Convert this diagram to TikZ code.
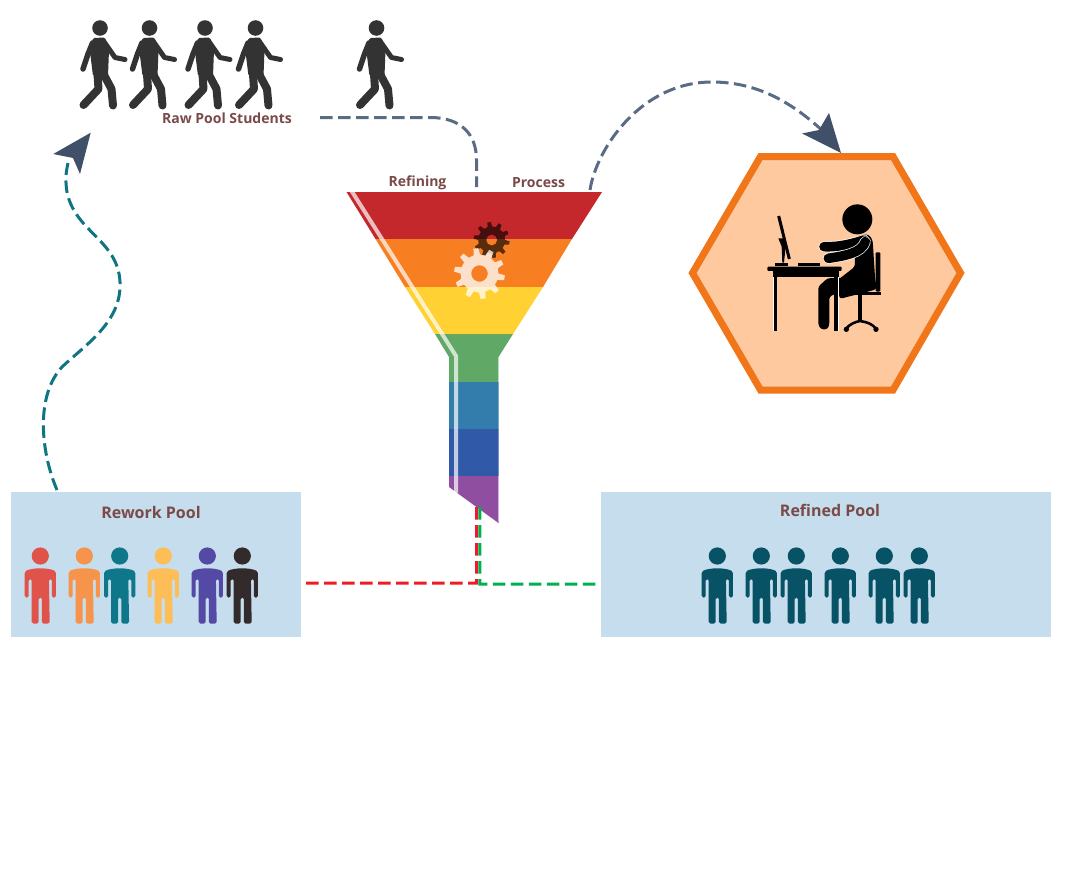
\documentclass[tikz,border=0pt]{standalone}
\usepackage{fontspec}
\setmainfont{Open Sans}
\usetikzlibrary{calc}
\definecolor{lbl}{HTML}{7A4A48}
\definecolor{slate}{HTML}{5A6B85}
\definecolor{slated}{HTML}{3F5068}
\definecolor{teal1}{HTML}{0F7582}
\definecolor{panel}{HTML}{C5DDEC}
\definecolor{walkc}{HTML}{333333}
\definecolor{hexf}{HTML}{FFC99F}
\definecolor{hexs}{HTML}{F1761A}
\definecolor{redc}{HTML}{ED1C24}
\definecolor{greenc}{HTML}{00B050}
\tikzset{
 lab/.style={font=\bfseries\fontsize{14}{16}\selectfont,text=lbl,inner sep=0pt},
 panellab/.style={lab,font=\bfseries\fontsize{16}{18}\selectfont},
 panelbox/.style={fill=panel,draw=none,inner sep=0pt,anchor=north west},
 conn/.style={line width=3pt,dash pattern=on 12.5pt off 5.5pt},
 person/.pic={
   \fill[pic actions] (0,0) circle (8.6);
   \fill[pic actions,rounded corners=1.6pt] (-15.6,15.5) .. controls (-8,11.5) and (8,11.5) .. (15.6,15.5) -- (15.6,41.5) -- (11.6,41.5) -- (11.6,23) -- (8.6,23) -- (9.4,67.5) -- (1.6,67.5) -- (1.6,41.5) -- (-1.6,41.5) -- (-1.6,67.5) -- (-8.6,67.5) -- (-8.6,23) -- (-11.6,23) -- (-11.6,41.5) -- (-15.6,41.5) -- cycle;
 },
 walker/.pic={
   \fill[walkc] (0,0) circle (7.8);
   \fill[walkc,rounded corners=1.5pt] (-7,10) -- (5,9.5) -- (9,22) -- (8,48) -- (-7,48) -- (-10,24) -- cycle;
   \draw[walkc,line width=5.5pt,line cap=round,line join=round] (-7.5,15) -- (-12,26) -- (-17,41);
   \draw[walkc,line width=5pt,line cap=round,line join=round] (3.5,13) -- (15,29.5) -- (25,31.5);
   \draw[walkc,line width=8pt,line cap=round,line join=round] (-2.5,46) -- (-1.5,61) -- (-16.5,77);
   \draw[walkc,line width=8pt,line cap=round,line join=round] (3.5,46) -- (11.5,61) -- (13,77.5);
 },
}
\newcommand{\gearshape}[7]{% x y outer root hole teeth fillopts
 \fill[#7,even odd rule,shift={(#1,#2)}]
   (0:#4) foreach \t in {1,...,#6}{
     -- ({(\t-1+.12)*360/#6}:#3) -- ({(\t-1+.42)*360/#6}:#3) -- ({(\t-1+.55)*360/#6}:#4) -- ({\t*360/#6}:#4)
   } -- cycle (0,0) circle (#5);
}
\begin{document}
\begin{tikzpicture}[x=1pt,y=-1pt]
\useasboundingbox (0,0) rectangle (1065,878);
\fill[white] (0,0) rectangle (1065,878);

% panels
\node[panelbox,minimum width=290pt,minimum height=145pt] (rework) at (11,492) {};
\node[panelbox,minimum width=450pt,minimum height=145pt] (refined) at (601,492) {};
\node[panellab] (reworklab) at (151,512.5) {Rework Pool};
\node[panellab] (refinedlab) at (830,510.5) {Refined Pool};

% labels
\node[lab] (rawlab) at (227,118.5) {Raw Pool Students};
\node[lab] (refininglab) at (417.5,182.5) {Refining};
\node[lab] (processlab) at (538.5,182.5) {Process};

% funnel
\fill[fill={rgb,255:red,196;green,40;blue,44}] (346.5,192) -- (602,192) -- (572,239) -- (375.5,239) -- cycle;
\fill[fill={rgb,255:red,247;green,127;blue,34}] (375.5,239) -- (572,239) -- (543,287) -- (405,287) -- cycle;
\fill[fill={rgb,255:red,255;green,209;blue,51}] (405,287) -- (543,287) -- (513,334) -- (435,334) -- cycle;
\fill[fill={rgb,255:red,95;green,168;blue,102}] (435,334) -- (513,334) -- (498.5,357) -- (498.5,382) -- (449,382) -- (449,357) -- cycle;
\fill[fill={rgb,255:red,51;green,125;blue,173}] (449,382) rectangle (498.5,429);
\fill[fill={rgb,255:red,48;green,89;blue,167}] (449,429) rectangle (498.5,476);
\fill[fill={rgb,255:red,143;green,78;blue,160}] (449,476) -- (498.5,476) -- (498.5,523) -- (449,487) -- cycle;
\draw[white,opacity=.7,line width=4pt] (351,190) -- (456,356) -- (456,493);
\draw[white,opacity=.35,line width=1pt] (498.5,357) -- (498.5,521);
\coordinate (funnelin) at (476.5,187);
\coordinate (funnelout) at (590,190);
\coordinate (redtop) at (476.5,507);
\coordinate (greentop) at (479.8,507);
\coordinate (redrow) at (0,583);
\coordinate (greenrow) at (0,584);

% gears
\gearshape{491.7}{240}{18}{13.5}{5.5}{10}{black,opacity=.64}
\gearshape{479.5}{273.5}{25.5}{19}{8.3}{10}{white,opacity=.76}

% hexagon
\draw[fill=hexf,draw=hexs,line width=7pt,miter limit=10] (692.5,273) -- (760.5,156.5) -- (893,156.5) -- (960.5,273) -- (893,390) -- (760.5,390) -- cycle;

% desk figure
\begin{scope}[shift={(740,190)},x=.3333pt,y=-.3333pt]
 \fill (352,88) circle (45);
 % chair
 \fill[rounded corners=1pt] (407,187) rectangle (421,305);
 \fill (340,307) rectangle (423,315);
 \fill (355,315) rectangle (365,390);
 \draw[line width=2.6pt] (318,416) .. controls (330,402) and (345,396) .. (360,393) .. controls (380,396) and (398,402) .. (408,416);
 \fill (319,418) circle (8); \fill (408,418) circle (8);
 % body
 \fill[rounded corners=3pt] (345,140) -- (385,132) -- (398,150) -- (405,260) -- (410,298) -- (298,327) -- (296,268) -- (345,230) -- cycle;
 \fill[rounded corners=2.5pt] (262,265) -- (340,262) -- (300,305) -- (268,320) -- (268,405) -- (262,418) -- (243,418) -- (235,405) -- (235,290) -- cycle;
 % arms
 \draw[white,line width=11pt,line cap=round] (252,170) .. controls (300,172) and (340,160) .. (372,150);
 \draw[line width=9.6pt,line cap=round] (252,170) .. controls (300,172) and (340,160) .. (372,150);
 \draw[white,line width=11pt,line cap=round] (265,205) .. controls (310,198) and (365,190) .. (376,155);
 \draw[line width=9.6pt,line cap=round] (265,205) .. controls (310,198) and (365,190) .. (376,155);
 % desk
 \fill[rounded corners=1pt] (82,230) rectangle (305,243);
 \fill (100,243) rectangle (296,262);
 \fill (100,262) rectangle (110,423);
 \fill (283,262) rectangle (294,423);
 \draw[white,line width=.5pt] (99,262) -- (99,423);
 \draw[white,line width=.5pt] (295,262) -- (295,423);
 % monitor
 \draw[line width=3pt] (116,78) -- (148,207);
 \fill (115,145) -- (130,145) -- (137,170) -- (132,218) -- (127,218) -- (125,170) -- cycle;
 \fill (105,218) rectangle (145,228);
 \fill (175,218) rectangle (240,228);
\end{scope}

% walkers
\path (100,28) pic (w1) {walker};
\path (149.5,28) pic (w2) {walker};
\path (205,28) pic (w3) {walker};
\path (255.5,28) pic (w4) {walker};
\path (376.5,28) pic (w5) {walker};

% people
\path (40.3,556) pic[fill={rgb,255:red,224;green,83;blue,75}] (p1) {person};
\path (84.3,556) pic[fill={rgb,255:red,245;green,148;blue,74}] (p2) {person};
\path (119.7,556) pic[fill={rgb,255:red,14;green,120;blue,138}] (p3) {person};
\path (163.3,556) pic[fill={rgb,255:red,253;green,189;blue,87}] (p4) {person};
\path (207.3,556) pic[fill={rgb,255:red,84;green,73;blue,164}] (p5) {person};
\path (242.3,556) pic[fill={rgb,255:red,51;green,42;blue,43}] (p6) {person};
\foreach \i/\x in {1/717.3,2/761.3,3/796.3,4/840.3,5/884.3,6/919.3}{
 \path (\x,556) pic[fill={rgb,255:red,8;green,82;blue,102}] (q\i) {person};
}

% connectors
\coordinate (rawstart) at ($(rawlab.east)+(28,-1)$);
\draw[conn,slate] (rawstart) -- (430,117.5) .. controls (462,117.5) and (476.5,135) .. (476.5,160) -- (funnelin);
\coordinate (hextip) at (841,153);
\draw[conn,slate] (funnelout) .. controls (596,150) and (640,82) .. (712,82) .. controls (760,82) and (795,105) .. (825,133);
\fill[slated] (hextip) -- (829,113) -- (819,130) -- (802,133.5) -- cycle;
\coordinate (reworktop) at (57,490);
\coordinate (arrowtip) at (90.7,132.7);
\coordinate (arrowend) at (68,163);
\draw[conn,teal1] (reworktop) .. controls (40,450) and (36,395) .. (62,367) .. controls (85,345) and (122,322) .. (120,282) .. controls (118,240) and (75,232) .. (67,192) .. controls (65,180) and (66,172) .. (arrowend);
\fill[slated] (arrowtip) -- (53.3,154) -- (73,158) -- (80,174) -- cycle;
\draw[conn,redc] (redtop) -- (redtop |- redrow) -- ([yshift=-18.5pt]rework.east);
\draw[conn,greenc] (greentop) -- (greentop |- greenrow) -- ([yshift=-19.5pt,xshift=-3pt]refined.west);
\end{tikzpicture}
\end{document}
